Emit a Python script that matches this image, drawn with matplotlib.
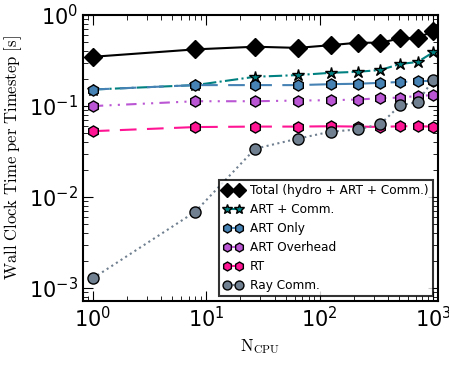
import matplotlib
matplotlib.use('Agg')
import matplotlib.pyplot as plt

n_cpu = [1, 8, 27, 64, 125, 216, 343, 512, 729, 1000]
total = [0.348, 0.42, 0.449, 0.436, 0.467, 0.497, 0.497, 0.554, 0.56, 0.667]
art_comm = [0.152, 0.17, 0.21, 0.219, 0.232, 0.238, 0.249, 0.29, 0.305, 0.389]
art_only = [0.152, 0.17, 0.17, 0.17, 0.174, 0.176, 0.18, 0.184, 0.187, 0.19]
art_overhead = [0.1, 0.113, 0.113, 0.115, 0.116, 0.118, 0.122, 0.124, 0.129, 0.132]
rt = [0.053, 0.0588, 0.0595, 0.0595, 0.06, 0.0595, 0.059, 0.06, 0.06, 0.0595]
ray_comm = [0.00128, 0.0069, 0.034, 0.0438, 0.0523, 0.0553, 0.0634, 0.1016, 0.111, 0.193]

plt.rcParams['mathtext.fontset'] = 'cm'
plt.rcParams['xtick.direction'] = 'in'
plt.rcParams['ytick.direction'] = 'in'

fig = plt.figure(figsize=(4.49, 3.68), dpi=100)
ax = fig.add_axes([0.185, 0.182, 0.79, 0.777])

ms = 8
ax.plot(n_cpu, total, color='black', ls='-', marker='D', ms=9, mec='black',
        label='Total (hydro + ART + Comm.)')
ax.plot(n_cpu, art_comm, color='teal', ls='-.', marker='*', ms=9, mec='black',
        label='ART + Comm.')
ax.plot(n_cpu, art_only, color='steelblue', ls=(0, (8, 5)), marker='h', ms=ms, mec='black',
        label='ART Only')
ax.plot(n_cpu, art_overhead, color='mediumorchid', ls=(0, (5, 3, 1, 3, 1, 3)), marker='h', ms=ms,
        mec='black', label='ART Overhead')
ax.plot(n_cpu, rt, color='deeppink', ls=(0, (8, 5)), marker='h', ms=ms, mec='black',
        label='RT')
ax.plot(n_cpu, ray_comm, color='slategray', ls=':', marker='o', ms=ms, mec='black',
        label='Ray Comm.')

ax.set_xscale('log')
ax.set_yscale('log')
ax.set_xlim(0.82, 1100)
ax.set_ylim(7.2e-4, 1)
ax.tick_params(which='both', top=True, right=True, labelsize=15)
ax.tick_params(which='major', length=7)
ax.tick_params(which='minor', length=3.5)
for s in ax.spines.values():
    s.set_linewidth(1.5)

ax.set_xlabel(r'$\mathrm{N_{CPU}}$', fontsize=12)
ax.set_ylabel(r'$\mathrm{Wall\ Clock\ Time\ per\ Timestep\ [s]}$', fontsize=12)

leg = ax.legend(loc='lower right', numpoints=2, fontsize=8.7, fancybox=False, markerscale=0.8,
                handlelength=1.6, handletextpad=0.6, borderpad=0.35, labelspacing=0.5,
                borderaxespad=0.4)
leg.get_frame().set_edgecolor('black')
leg.get_frame().set_linewidth(1.5)

fig.savefig('out.png', dpi=100)
